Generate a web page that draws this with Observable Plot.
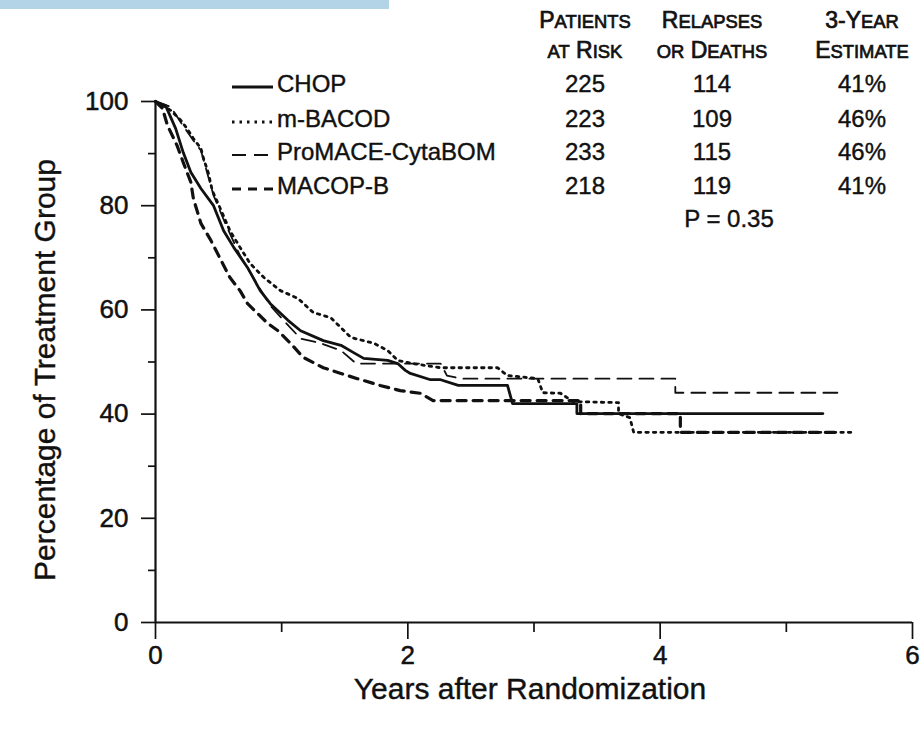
<!DOCTYPE html>
<html>
<head>
<meta charset="utf-8">
<script src="https://cdn.jsdelivr.net/npm/d3@7"></script>
<script src="https://cdn.jsdelivr.net/npm/@observablehq/plot@0.6"></script>
<style>
  html, body { margin: 0; padding: 0; background: #fff; }
  #wrap { position: relative; width: 922px; height: 729px; overflow: hidden; background: #fff;
          font-family: "Liberation Sans", Arial, Helvetica, sans-serif; color: #111; }
  #chart { position: absolute; left: 0; top: 0; }
  #chart svg text { stroke: #111; stroke-width: 0.5px; }
  #bar { position: absolute; left: 0; top: 0; width: 389px; height: 9px; background: #b3d3e7; }
  .t { position: absolute; white-space: nowrap; line-height: 1; -webkit-text-stroke: 0.4px #111; }
  .c { text-align: center; width: 200px; }
  .hdr { font-size: 23px; -webkit-text-stroke: 0.7px #111; }
  .row { font-size: 24px; }
</style>
</head>
<body>
<div id="wrap">
  <div id="chart"></div>
  <div id="bar"></div>
</div>
<script>
// ---- data ----
const seriesNames = ["CHOP", "m-BACOD", "ProMACE-CytaBOM", "MACOP-B"];
const patientsAtRisk = [225, 223, 233, 218];
const relapsesOrDeaths = [114, 109, 115, 119];
const threeYearEstimate = ["41%", "46%", "46%", "41%"];
const pValueLabel = "P = 0.35";
const xTicksMajor = [0, 2, 4, 6];
const xTicksMinor = [1, 3, 5];
const yTicksMajor = [0, 20, 40, 60, 80, 100];
const yTicksMinor = [10, 30, 50, 70, 90];

const chopYears = [0,0.08,0.16,0.22,0.28,0.36,0.46,0.54,0.62,0.73,0.83,0.91,1.05,1.15,1.33,1.47,1.57,1.65,1.84,1.92,1.98,2.02,2.18,2.26,2.40,2.79,2.83,3.34,3.34,5.29];
const chopPct   = [100,99.2,94.8,90.2,86.4,83.3,80.0,75.2,72.0,68.1,63.7,61.2,58.0,56.0,54.1,53.2,51.8,50.7,50.3,49.7,48.4,47.8,46.6,46.6,45.5,45.5,42.0,42.0,40.1,40.1];

const mbacodYears = [0,0.12,0.20,0.25,0.30,0.36,0.38,0.42,0.45,0.52,0.59,0.67,0.75,0.86,0.99,1.13,1.25,1.39,1.47,1.55,1.73,1.84,1.92,2.04,2.26,2.71,2.79,3.03,3.07,3.21,3.31,3.67,3.67,3.76,3.79,5.55];
const mbacodPct   = [100,98.3,96.4,94.8,92.9,91.0,89.1,86.2,82.9,79.1,75.2,72.0,68.9,66.2,63.7,62.2,59.5,58.5,56.6,54.7,53.6,52.2,50.3,49.7,48.9,48.9,47.4,46.8,44.1,44.0,42.4,42.2,40.1,39.3,36.5,36.5];

const promaceYears = [0,0.12,0.20,0.30,0.36,0.42,0.46,0.56,0.67,0.79,0.91,1.03,1.15,1.31,1.47,1.59,2.26,2.31,2.42,4.12,4.12,5.44];
const promacePct   = [100,99.0,96.0,92.5,90.6,85.4,82.0,76.2,70.4,65.6,60.8,57.6,54.5,53.6,52.2,49.7,49.7,47.4,46.8,46.8,44.1,44.1];

const macopbYears = [0,0.055,0.095,0.17,0.22,0.28,0.30,0.36,0.44,0.52,0.59,0.67,0.73,0.81,0.89,0.97,1.07,1.17,1.33,1.47,1.60,1.78,1.94,2.10,2.20,3.37,3.37,4.16,4.16,5.39];
const macopbPct   = [100,98.7,95.4,91.6,88.3,84.5,81.4,76.6,73.3,69.5,66.2,63.7,61.2,59.3,57.4,56.0,53.6,50.9,48.9,47.8,46.8,45.5,44.5,44.0,42.6,42.6,40.1,40.1,36.5,36.5];

const curveYears = [chopYears, mbacodYears, promaceYears, macopbYears];
const curvePct = [chopPct, mbacodPct, promacePct, macopbPct];

// ---- styles (kept separate from data) ----
const ink = "#111";
const lineStyles = {
  "CHOP":            { strokeWidth: 2.8, strokeDasharray: null },
  "m-BACOD":         { strokeWidth: 2.8, strokeDasharray: "2.5,5" },
  "ProMACE-CytaBOM": { strokeWidth: 1.8, strokeDasharray: "14,8" },
  "MACOP-B":         { strokeWidth: 3.2, strokeDasharray: "9,7" }
};

const rows = seriesNames.flatMap((name, s) =>
  curveYears[s].map((x, i) => ({ series: name, x, y: curvePct[s][i] })));

const lineMarks = seriesNames.map(name =>
  Plot.line(rows.filter(d => d.series === name), {
    x: "x", y: "y", stroke: ink,
    strokeWidth: lineStyles[name].strokeWidth,
    strokeDasharray: lineStyles[name].strokeDasharray || undefined,
    curve: "linear"
  }));

const chart = Plot.plot({
  width: 922, height: 729,
  marginLeft: 155, marginRight: 10, marginTop: 101, marginBottom: 107,
  x: { domain: [0, 6] },
  y: { domain: [0, 100] },
  style: { fontFamily: "'Liberation Sans', Arial, Helvetica, sans-serif", fontSize: "26px", color: ink, background: "transparent" },
  marks: [
    Plot.axisX({ ticks: xTicksMajor, tickSize: 17, tickPadding: 6, label: null, strokeWidth: 1.7, tickFormat: d => String(d) }),
    Plot.axisX({ ticks: xTicksMinor, tickSize: 10, label: null, strokeWidth: 1.7, tickFormat: () => "" }),
    Plot.axisY({ ticks: yTicksMajor, tickSize: 14, tickPadding: 13, label: null, strokeWidth: 1.7, tickFormat: d => String(d) }),
    Plot.axisY({ ticks: yTicksMinor, tickSize: 7, label: null, strokeWidth: 1.7, tickFormat: () => "" }),
    Plot.ruleY([0], { stroke: ink, strokeWidth: 2.2 }),
    Plot.ruleX([0], { stroke: ink, strokeWidth: 2.2 }),
    ...lineMarks
  ]
});
document.getElementById("chart").appendChild(chart);

// ---- HTML overlay: legend table and axis titles ----
const wrap = document.getElementById("wrap");
function addText(html, cls, left, top, extra) {
  const el = document.createElement("div");
  el.className = "t " + cls;
  el.style.left = left + "px";
  el.style.top = top + "px";
  if (extra) Object.assign(el.style, extra);
  el.innerHTML = html;
  wrap.appendChild(el);
  return el;
}
// small caps: lowercase runs become smaller capitals
function smallCaps(str) {
  return str.replace(/[a-z]+/g, m => `<span style="font-size:0.8em">${m.toUpperCase()}</span>`);
}
const headers = [["Patients", "at Risk"], ["Relapses", "or Deaths"], ["3-Year", "Estimate"]];
const colCenters = [585, 712, 862];
const headerTops = [9, 39];
headers.forEach((h, c) => {
  h.forEach((line, r) => addText(smallCaps(line), "c hdr", colCenters[c] - 100, headerTops[r]));
});
const rowCenters = [84, 119, 152, 186];
seriesNames.forEach((name, i) => {
  const top = rowCenters[i] - 12;
  const st = lineStyles[name];
  const dash = st.strokeDasharray ? `stroke-dasharray="${st.strokeDasharray}"` : "";
  addText(`<svg width="42" height="10"><line x1="0" y1="5" x2="41" y2="5" stroke="${ink}" stroke-width="${st.strokeWidth}" ${dash}/></svg>`,
          "", 232, rowCenters[i] - 5);
  addText(name, "row", 277, top);
  addText(String(patientsAtRisk[i]), "c row", colCenters[0] - 100, top);
  addText(String(relapsesOrDeaths[i]), "c row", colCenters[1] - 100, top);
  addText(threeYearEstimate[i], "c row", colCenters[2] - 100, top);
});
addText(pValueLabel, "c row", 729 - 100, 207);

addText("Years after Randomization", "", 530 - 250, 674, { width: "500px", textAlign: "center", fontSize: "30px" });
addText("Percentage of Treatment Group", "", 45 - 250, 370 - 15,
        { width: "500px", textAlign: "center", fontSize: "30px", transform: "rotate(-90deg)", transformOrigin: "250px 15px" });
</script>
</body>
</html>
